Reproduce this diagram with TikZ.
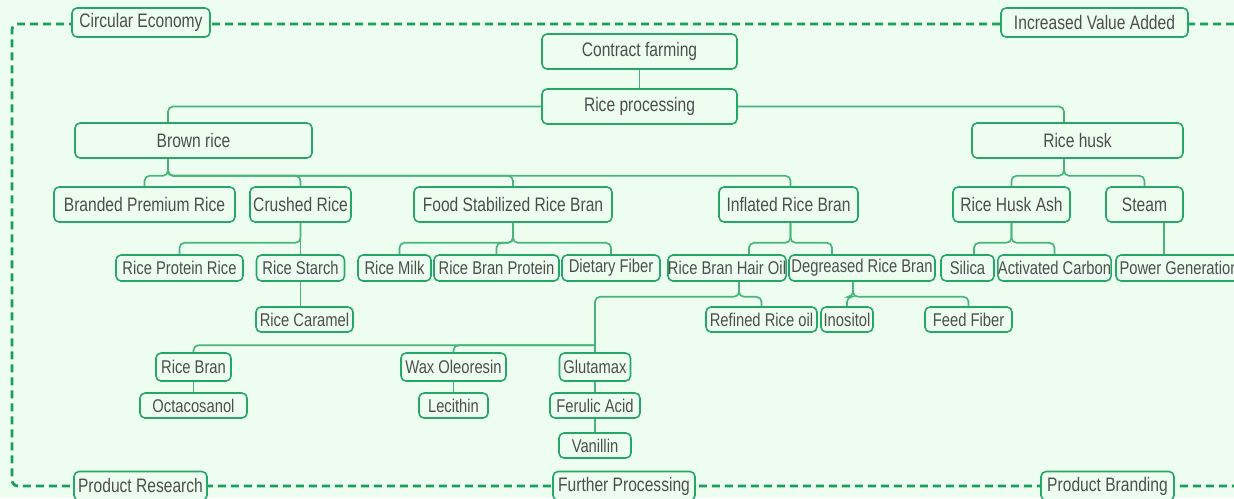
\documentclass[tikz,border=0pt]{standalone}
\usepackage{fontspec}
\setmainfont{Liberation Sans}[FakeStretch=0.8]
\usetikzlibrary{calc}

\definecolor{bgmint}{RGB}{237,253,240}
\definecolor{boxgreen}{RGB}{38,166,104}
\definecolor{linkgreen}{RGB}{72,182,122}
\definecolor{dashgreen}{RGB}{26,158,92}
\definecolor{txtgray}{RGB}{78,78,78}

\tikzset{
	itembox/.style={draw=boxgreen, line width=0.9pt, rounded corners=0.1cm, fill=bgmint, text=txtgray, inner sep=0pt, minimum height=0.7cm, font=\fontsize{11.1}{12}\selectfont},
	smallbox/.style={itembox, minimum height=0.52cm, font=\fontsize{10.5}{12}\selectfont},
	tagbox/.style={itembox, minimum height=0.58cm},
	conn/.style={draw=linkgreen, line width=0.95pt, rounded corners=0.1cm},
	dashframe/.style={draw=dashgreen, line width=1.6pt, dash pattern=on 0.16cm off 0.1cm, rounded corners=0.12cm},
}

\begin{document}
\begin{tikzpicture}[x=0.02cm, y=-0.02cm]
		%%%%% START %%%%%
		
		\fill[bgmint] (0,0) rectangle (1234,498);
		\useasboundingbox (0,0) rectangle (1234,498);
		
		\draw[dashframe] (1260,24) -- (12,24) -- (12,486) -- (1260,486);
		
		\node[tagbox, minimum width=2.76cm] (ce) at (141,22.5) {Circular Economy};
		\node[tagbox, minimum width=3.74cm] (iva) at (1094.5,22.5) {Increased Value Added};
		\node[tagbox, minimum width=2.66cm] (pres) at (140.5,486) {Product Research};
		\node[tagbox, minimum width=2.84cm] (fp) at (624,486) {Further Processing};
		\node[tagbox, minimum width=2.66cm] (pbr) at (1107.5,486) {Product Branding};
		
		\node[itembox, minimum width=3.9cm] (cf) at (639.5,51.5) {Contract farming};
		\node[itembox, minimum width=3.9cm] (rp) at (639.5,106.5) {Rice processing};
		\node[itembox, minimum width=4.74cm] (br) at (193.5,140.5) {Brown rice};
		\node[itembox, minimum width=4.22cm] (rh) at (1077.5,140.5) {Rice husk};
		
		\node[itembox, minimum width=3.62cm] (bpr) at (144.5,204.5) {Branded Premium Rice};
		\node[itembox, minimum width=2.02cm] (cr) at (300.5,204.5) {Crushed Rice};
		\node[itembox, minimum width=3.96cm] (fsrb) at (513,204.5) {Food Stabilized Rice Bran};
		\node[itembox, minimum width=2.78cm] (irb) at (788.5,204.5) {Inflated Rice Bran};
		\node[itembox, minimum width=2.34cm] (rha) at (1011.5,204.5) {Rice Husk Ash};
		\node[itembox, minimum width=1.54cm] (stm) at (1144.5,204.5) {Steam};
		
		\node[smallbox, minimum width=2.54cm] (rpr) at (179.5,268) {Rice Protein Rice};
		\node[smallbox, minimum width=1.76cm] (rs) at (300.5,268) {Rice Starch};
		\node[smallbox, minimum width=1.46cm] (rm) at (394.5,268) {Rice Milk};
		\node[smallbox, minimum width=2.5cm] (rbp) at (496.5,268) {Rice Bran Protein};
		\node[smallbox, minimum width=1.96cm] (df) at (611,268) {Dietary Fiber};
		\node[smallbox, minimum width=2.36cm] (rbho) at (727,268) {Rice Bran Hair Oil};
		\node[smallbox, minimum width=2.92cm] (drb) at (862,268) {Degreased Rice Bran};
		\node[smallbox, minimum width=1.06cm] (sil) at (967.5,268) {Silica};
		\node[smallbox, minimum width=2.26cm] (ac) at (1054.5,268) {Activated Carbon};
		\node[smallbox, minimum width=2.52cm] (pg) at (1179,268) {Power Generation};
		
		\node[smallbox, minimum width=1.94cm, minimum height=0.5cm] (rc) at (304.5,319.5) {Rice Caramel};
		\node[smallbox, minimum width=2.22cm, minimum height=0.5cm] (rro) at (761.5,319.5) {Refined Rice oil};
		\node[smallbox, minimum width=1.04cm, minimum height=0.5cm] (ino) at (847,319.5) {Inositol};
		\node[smallbox, minimum width=1.74cm, minimum height=0.5cm] (ff) at (968.5,319.5) {Feed Fiber};
		
		\node[smallbox, minimum width=1.5cm, minimum height=0.56cm] (rb) at (193.5,367) {Rice Bran};
		\node[smallbox, minimum width=2.1cm, minimum height=0.56cm] (wo) at (453.5,367) {Wax Oleoresin};
		\node[smallbox, minimum width=1.42cm, minimum height=0.56cm] (glu) at (595,367) {Glutamax};
		
		\node[smallbox, minimum width=2.14cm, minimum height=0.5cm] (oct) at (193.5,405.5) {Octacosanol};
		\node[smallbox, minimum width=1.38cm, minimum height=0.5cm] (lec) at (453.5,405.5) {Lecithin};
		\node[smallbox, minimum width=1.8cm, minimum height=0.5cm] (fa) at (595,405.5) {Ferulic Acid};
		\node[smallbox, minimum width=1.44cm, minimum height=0.5cm] (van) at (595,445.5) {Vanillin};
		
		% links
		\draw[conn] (cf) -- (rp);
		\draw[conn] (rp.west) -| ($(br.north)+(-25.5,0)$);
		\draw[conn] (rp.east) -| ($(rh.north)+(-13.5,0)$);
		
		\draw[conn] ($(br.south)+(-25.5,0)$) -- ++(0,17) -| (bpr.north);
		\draw[conn] ($(br.south)+(-25.5,0)$) -- ++(0,17) -| (cr.north);
		\draw[conn] ($(br.south)+(-25.5,0)$) -- ++(0,17) -| (fsrb.north);
		\draw[conn] ($(br.south)+(-25.5,0)$) -- ++(0,17) -| ($(irb.north)+(2,0)$);
		\draw[conn] ($(rh.south)+(-13.5,0)$) -- ++(0,17) -| (rha.north);
		\draw[conn] ($(rh.south)+(-13.5,0)$) -- ++(0,17) -| (stm.north);
		
		\draw[conn] (cr.south) -- ++(0,20) -| (rpr.north);
		\draw[conn] (cr.south) -- (rs.north);
		\draw[conn] (fsrb.south) -- ++(0,20) -| ($(rm.north)+(5,0)$);
		\draw[conn] (fsrb.south) -- ++(0,20) -| (rbp.north);
		\draw[conn] (fsrb.south) -- ++(0,20) -| (df.north);
		\draw[conn] ($(irb.south)+(2,0)$) -- ++(0,20) -| ($(rbho.north)+(22,0)$);
		\draw[conn] ($(irb.south)+(2,0)$) -- ++(0,20) -| ($(drb.north)+(-30,0)$);
		\draw[conn] (rha.south) -- ++(0,20) -| ($(sil.north)+(6.5,0)$);
		\draw[conn] (rha.south) -- ++(0,20) -| (ac.north);
		\coordinate (pgtop) at ($(pg.north)+(-15,0)$);
		\draw[conn] (pgtop |- stm.south) -- (pgtop);
		
		\draw[conn] (rs.south) -- (rs.south |- rc.north);
		\draw[conn] ($(rbho.south)+(12,0)$) -- ++(0,15) -| (rro.north);
		\draw[conn] ($(rbho.south)+(12,0)$) -- ++(0,15) -| (glu.north);
		\draw[conn] ($(drb.south)+(-9,0)$) -- ++(0,15) -| (ino.north);
		\draw[conn] ($(drb.south)+(-9,0)$) -- ++(0,15) -| (ff.north);
		
		\coordinate (fork) at ($(glu.north)+(0,-7)$);
		\draw[conn] (fork) -| (wo.north);
		\draw[conn] (fork) -| (rb.north);
		\draw[conn] (rb.south) -- (oct.north);
		\draw[conn] (wo.south) -- (lec.north);
		\draw[conn] (glu.south) -- (fa.north);
		\draw[conn] (fa.south) -- (van.north);
		
		%%%%% END %%%%%
\end{tikzpicture}
\end{document}
